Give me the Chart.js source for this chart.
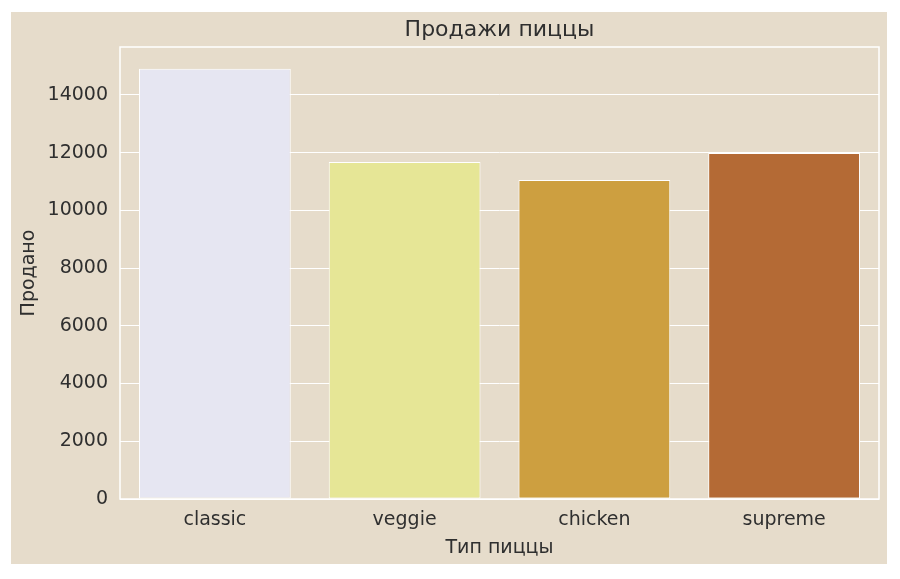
<!DOCTYPE html>
<html>
<head>
<meta charset="utf-8">
<script src="https://cdn.jsdelivr.net/npm/chart.js@4.4.1/dist/chart.umd.min.js"></script>
<style>
    html, body { margin: 0; padding: 0; background: #ffffff; }
    #frame { position: absolute; left: 11px; top: 12px; width: 876px; height: 552px; background: #e6dccb; }
    #chart { display: block; }
</style>
</head>
<body>
<div id="frame"><canvas id="chart" width="876" height="552"></canvas></div>
<script>
(() => {
    'use strict';

    const categories = ['classic', 'veggie', 'chicken', 'supreme'];
    const sold = [14910, 11680, 11050, 11990];
    const barColors = ['#e6e6f2', '#e6e696', '#cd9f40', '#b46a35'];
    const yTicks = [0, 2000, 4000, 6000, 8000, 10000, 12000, 14000];
    const yMax = 15660;

    const textColor = '#2f2f2f';
    const fontFamily = '"DejaVu Sans", sans-serif';

    // white frame round the plot, like the axes spines
    const spines = {
        id: 'spines',
        afterDatasetsDraw(chart) {
            const { ctx, chartArea } = chart;
            ctx.save();
            ctx.strokeStyle = '#ffffff';
            ctx.lineWidth = 1.5;
            ctx.strokeRect(chartArea.left, chartArea.top, chartArea.right - chartArea.left, chartArea.bottom - chartArea.top);
            ctx.restore();
        },
    };

    Chart.defaults.font.family = fontFamily;
    Chart.defaults.color = textColor;

    new Chart(document.getElementById('chart'), {
        type: 'bar',
        data: {
            labels: categories,
            datasets: [{
                data: sold,
                backgroundColor: barColors,
                borderColor: '#ffffff',
                borderWidth: 1,
                borderSkipped: false,
                barPercentage: 0.8,
                categoryPercentage: 1.0,
            }],
        },
        plugins: [spines],
        options: {
            responsive: false,
            animation: false,
            layout: {
                padding: { top: 0, right: 8, bottom: 0, left: 0 },
            },
            scales: {
                x: {
                    offset: true,
                    grid: { display: false, drawTicks: false },
                    border: { display: false },
                    ticks: {
                        padding: 10,
                        color: textColor,
                        font: { size: 19 },
                    },
                    title: {
                        display: true,
                        text: 'Тип пиццы',
                        color: textColor,
                        font: { size: 19 },
                        padding: { top: 0, bottom: 5 },
                    },
                    afterFit: (scale) => { scale.height = 65; },
                },
                y: {
                    min: 0,
                    max: yMax,
                    grid: { color: '#ffffff', lineWidth: 1, drawTicks: false },
                    border: { display: false },
                    ticks: {
                        padding: 12,
                        color: textColor,
                        font: { size: 19 },
                        callback: (value) => String(value),
                    },
                    afterBuildTicks: (scale) => {
                        scale.ticks = yTicks.map((value) => ({ value }));
                    },
                    title: {
                        display: true,
                        text: 'Продано',
                        color: textColor,
                        font: { size: 19 },
                        padding: { top: 7, bottom: 0 },
                    },
                    afterFit: (scale) => { scale.width = 109; },
                },
            },
            plugins: {
                legend: { display: false },
                tooltip: { enabled: false },
                title: {
                    display: true,
                    text: 'Продажи пиццы',
                    color: textColor,
                    fullSize: false,
                    font: { size: 22, weight: 'normal' },
                    padding: { top: 5, bottom: 3.6 },
                },
            },
        },
    });
})();
</script>
</body>
</html>
